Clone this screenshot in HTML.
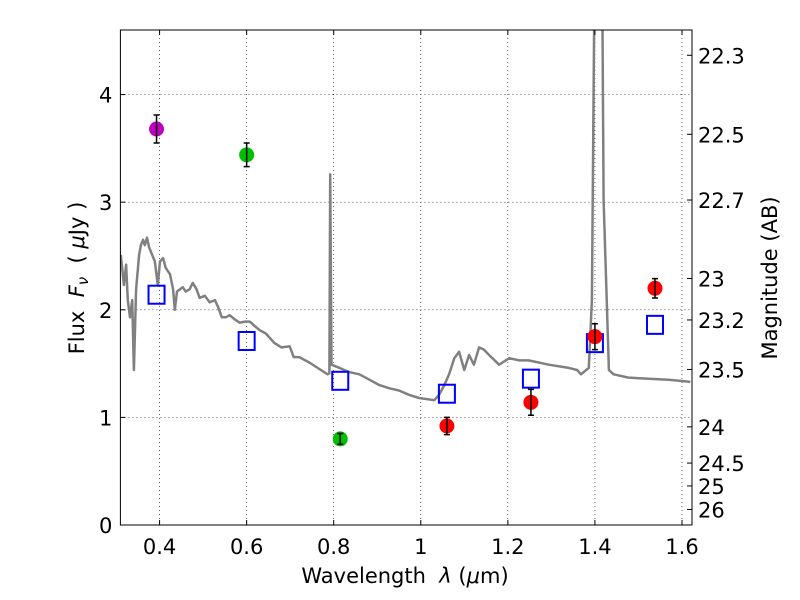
<!DOCTYPE html>
<html><head><meta charset="utf-8"><style>
body{margin:0;background:#fff}
svg{display:block;font-family:"DejaVu Sans","Liberation Sans",sans-serif}
text{white-space:pre}
</style></head><body>
<svg id="chart" width="800" height="600">
<defs><clipPath id="clip"><rect x="120.4" y="30" width="571.6" height="495"/></clipPath></defs>
<rect x="0" y="0" width="800" height="600" fill="#fff"/>
<g id="grid"></g>
<g id="spec" clip-path="url(#clip)"></g>
<g id="marks"></g>
<rect x="120.4" y="30" width="571.6" height="495" fill="none" stroke="#000" stroke-width="1"/>
<g id="axes"></g>
<text x="405" y="583" font-size="21" text-anchor="middle">Wavelength  <tspan font-style="italic">λ</tspan> (<tspan font-style="italic">μ</tspan>m)</text>
<text transform="translate(84,278) rotate(-90)" font-size="21" text-anchor="middle">Flux  <tspan font-style="italic">F</tspan><tspan font-style="italic" font-size="15" dy="4">ν</tspan><tspan dy="-4">  ( </tspan><tspan font-style="italic">μ</tspan>Jy )</text>
<text transform="translate(777,278) rotate(-90)" font-size="21" text-anchor="middle">Magnitude (AB)</text>
</svg>
<script>
const xTicks=[0.4,0.6,0.8,1.0,1.2,1.4,1.6];
const xTickLabels=["0.4","0.6","0.8","1","1.2","1.4","1.6"];
const yTicks=[0,1,2,3,4];
const magTicks=[22.3,22.5,22.7,23,23.2,23.5,24,24.5,25,26];
const specWave=[0.311,0.318,0.323,0.327,0.332,0.337,0.341,0.346,0.353,0.357,0.362,0.366,0.371,0.376,0.380,0.389,0.396,0.401,0.408,0.414,0.424,0.431,0.435,0.440,0.447,0.453,0.460,0.469,0.476,0.485,0.492,0.504,0.515,0.527,0.534,0.543,0.552,0.561,0.573,0.584,0.596,0.607,0.618,0.630,0.644,0.653,0.664,0.680,0.699,0.708,0.721,0.744,0.767,0.786,0.790,0.792,0.795,0.813,0.836,0.859,0.882,0.905,0.928,0.950,0.973,0.996,1.031,1.042,1.054,1.065,1.077,1.088,1.100,1.111,1.122,1.134,1.145,1.157,1.180,1.203,1.226,1.248,1.294,1.340,1.359,1.368,1.386,1.393,1.400,1.416,1.420,1.432,1.443,1.477,1.523,1.569,1.619];
const specFlux=[2.51,2.23,2.42,2.09,1.93,2.09,1.44,2.19,2.51,2.60,2.65,2.60,2.67,2.58,2.54,2.45,2.23,2.45,2.48,2.39,2.33,2.19,2.00,2.17,2.19,2.21,2.17,2.19,2.25,2.19,2.11,2.13,2.07,2.09,2.03,1.93,1.93,1.95,1.91,1.88,1.89,1.89,1.85,1.81,1.78,1.74,1.69,1.65,1.66,1.56,1.56,1.51,1.45,1.40,1.41,3.26,1.49,1.46,1.42,1.40,1.35,1.30,1.27,1.25,1.21,1.18,1.16,1.21,1.30,1.40,1.55,1.61,1.44,1.58,1.49,1.65,1.63,1.58,1.49,1.55,1.53,1.53,1.49,1.46,1.44,1.40,1.46,2.09,5.5,5.5,3.02,1.44,1.40,1.37,1.36,1.35,1.33];
const obsWave=[0.393,0.600,0.815,1.060,1.253,1.400,1.538];
const obsFlux=[3.68,3.44,0.80,0.92,1.14,1.75,2.20];
const obsErr=[0.13,0.11,0.05,0.08,0.12,0.12,0.09];
const obsColor=["#bf00bf","#00bf00","#00bf00","#ff0000","#ff0000","#ff0000","#ff0000"];
const modelFlux=[2.14,1.71,1.34,1.22,1.36,1.69,1.86];

const X0=120.4,X1=692,Y0=525,Y1=30,xmin=0.31,xmax=1.623,ymin=0,ymax=4.6;
const sx=v=>X0+(v-xmin)/(xmax-xmin)*(X1-X0);
const sy=v=>Y0-(v-ymin)/(ymax-ymin)*(Y0-Y1);
const NS="http://www.w3.org/2000/svg";
function mk(tag,attrs,parent){const e=document.createElementNS(NS,tag);for(const k in attrs)e.setAttribute(k,attrs[k]);parent.appendChild(e);return e;}
const grid=document.getElementById('grid'),axes=document.getElementById('axes'),spec=document.getElementById('spec'),marks=document.getElementById('marks');
xTicks.forEach((t,i)=>{const x=sx(t);
 let g=mk('line',{x1:x,x2:x,y1:Y1,y2:Y0,stroke:'#000','stroke-width':0.6,'stroke-dasharray':'1,3'},grid);
 
 let a=mk('line',{x1:x,x2:x,y1:Y0,y2:Y0-5,stroke:'#000'},axes);
 
 let b=mk('line',{x1:x,x2:x,y1:Y1,y2:Y1+5,stroke:'#000'},axes);
 
 let l=mk('text',{x:x,y:Y0+29,'font-size':21,'text-anchor':'middle'},axes);l.textContent=xTickLabels[i];
 });
yTicks.forEach(t=>{const y=sy(t);
 let g=mk('line',{x1:X0,x2:X1,y1:y,y2:y,stroke:'#000','stroke-width':0.6,'stroke-dasharray':'1,3'},grid);
 
 let a=mk('line',{x1:X0,x2:X0+5,y1:y,y2:y,stroke:'#000'},axes);
 
 let l=mk('text',{x:X0-8,y:y+8,'font-size':21,'text-anchor':'end'},axes);l.textContent=String(t);
 });
magTicks.forEach(m=>{const f=Math.pow(10,(23.9-m)/2.5);const y=sy(f);
 let a=mk('line',{x1:X1,x2:X1-5,y1:y,y2:y,stroke:'#000'},axes);
 
 let l=mk('text',{x:X1+6,y:y+8,'font-size':21},axes);l.textContent=String(m);
 });
let d=specWave.map((w,i)=>(i?'L':'M')+sx(w).toFixed(1)+','+sy(specFlux[i]).toFixed(1)).join('');
let p=mk('path',{d:d,fill:'none',stroke:'#808080','stroke-width':2.5,'stroke-linejoin':'round'},spec);

obsWave.forEach((w,i)=>{const x=sx(w);
 let q=mk('rect',{x:sx(w)-8,y:sy(modelFlux[i])-9,width:16,height:18,fill:'none',stroke:'#0000ff','stroke-width':2},marks);
 
 let c=mk('circle',{cx:x,cy:sy(obsFlux[i]),r:7.5,fill:obsColor[i]},marks);
 
 const yt=sy(obsFlux[i]+obsErr[i]),yb=sy(obsFlux[i]-obsErr[i]);
 let e=mk('path',{d:`M${x},${yt}L${x},${yb}M${x-3},${yt}L${x+3},${yt}M${x-3},${yb}L${x+3},${yb}`,stroke:'#000','stroke-width':1.5,fill:'none'},marks);
 });
</script>
</body></html>
